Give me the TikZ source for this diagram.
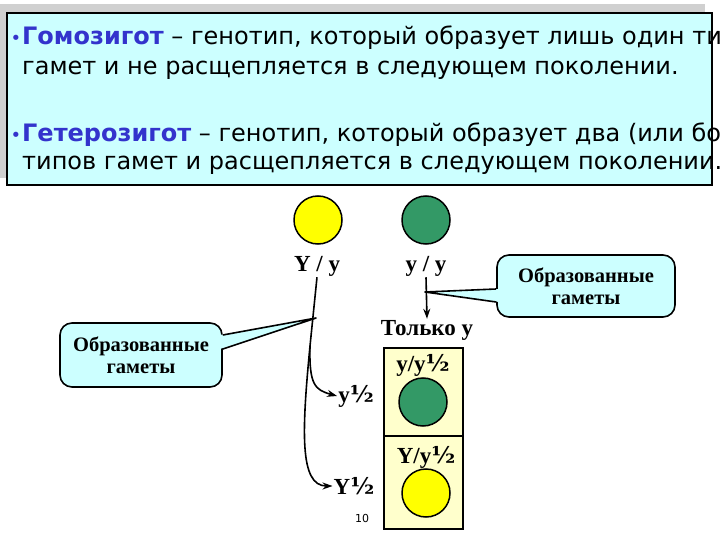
\documentclass[tikz,border=0pt]{standalone}
\usepackage{fontspec}
\setmainfont{Liberation Serif}
\newfontfamily\dv{DejaVu Sans}
\newfontfamily\dvs{DejaVu Serif}
\usetikzlibrary{arrows.meta,calc}
\definecolor{boxcyan}{HTML}{CCFFFF}
\definecolor{callcyan}{HTML}{CCFFFF}
\definecolor{shadowgray}{HTML}{D0D0D0}
\definecolor{termblue}{HTML}{3333CC}
\definecolor{ballyellow}{HTML}{FFFF00}
\definecolor{ballgreen}{HTML}{339966}
\definecolor{cellyellow}{HTML}{FFFFCC}
\newcommand{\half}{{\dvs\bfseries ½}}
\tikzset{
  deftext/.style={font=\dv\fontsize{24}{28}\selectfont, anchor=base west, inner sep=0pt},
  bulletmark/.style={font=\dv\fontsize{18}{18}\selectfont, anchor=base east, inner sep=0pt, text=termblue},
  lbl/.style={font=\bfseries\fontsize{23}{26}\selectfont, inner sep=1pt},
  calltext/.style={font=\bfseries\fontsize{20.5}{22}\selectfont, align=center},
  callbox/.style={draw, line width=1.6pt, fill=callcyan, rounded corners=12pt, minimum width=#1},
  ball/.style={circle, draw, line width=1.5pt, minimum size=48pt, inner sep=0pt},
  cell/.style={draw, line width=1.5pt, fill=cellyellow, minimum width=79pt, inner sep=0pt},
  conn/.style={line width=1.6pt},
  arr/.style={line width=1.6pt, -{Stealth[length=10pt,width=7pt]}}
}
\begin{document}
\begin{tikzpicture}[x=1pt,y=-1pt]
\useasboundingbox (0,0) rectangle (720,540);
\clip (0,0) rectangle (720,540);
\fill[white] (0,0) rectangle (720,540);
% top definitions box
\fill[shadowgray] (0,4) rectangle (705,178);
\draw[line width=2pt, fill=boxcyan] (7,13) rectangle (712,185);
\node[bulletmark] (b1) at (21.5,45) {•};
\node[deftext] (t1) at (22,45) {\textcolor{termblue}{\bfseries Гомозигот} – генотип, который образует лишь один типов};
\node[deftext] (t2) at (22,75) {гамет и не расщепляется в следующем поколении.};
\node[bulletmark] (b2) at (21.5,142) {•};
\node[deftext] (t3) at (22,142) {\textcolor{termblue}{\bfseries Гетерозигот} – генотип, который образует два (или более)};
\node[deftext] (t4) at (22,170) {типов гамет и расщепляется в следующем поколении.};
% parents
\node[ball, fill=ballyellow] (pY) at (318,220) {};
\node[ball, fill=ballgreen] (pg) at (426,220) {};
\node[lbl] (lY) at (317,266) {Y / y};
\node[lbl] (ly) at (426,266) {y / y};
\node[lbl] (only) at (427,330) {Только y};
% gametes of Y/y
\node[lbl] (ga) at (356,396) {y\half};
\node[lbl] (gb) at (354,486) {Y\half};
\coordinate (br) at (310,346);
\draw[conn] (lY.south) -- (br);
\draw[arr] (br) .. controls (309,385) and (315,390) .. (ga.west);
\draw[arr] (br) .. controls (302,430) and (299,486) .. (gb.west);
\draw[arr] (ly.south) -- (only.north);
% offspring column
\node[cell, minimum height=88pt, anchor=north west] (c1) at (383,347) {};
\node[cell, minimum height=93pt, anchor=north west] (c2) at (383,435) {};
\node[lbl] (o1) at (423,365) {y/y\half};
\node[lbl] (o2) at (426,457) {Y/y\half};
\node[ball, fill=ballgreen] (k1) at (423,402) {};
\node[ball, fill=ballyellow] (k2) at (426,493) {};
\node[font=\dv\fontsize{11}{12}\selectfont] (pg10) at (362,518) {10};
% callouts
\coordinate (tipR) at (425,292);
\node[callbox=178pt, minimum height=62pt, calltext] (cR) at (586,286) {Образованные\\гаметы};
\fill[callcyan] ($(cR.west)+(3,3)$) -- (tipR) -- ($(cR.west)+(3,16)$) -- cycle;
\draw[line width=1.6pt, line join=round] ($(cR.west)+(0,3)$) -- (tipR) -- ($(cR.west)+(0,16)$);
\coordinate (tipL) at (316,318);
\node[callbox=162pt, minimum height=64pt, calltext] (cL) at (141,355) {Образованные\\гаметы};
\fill[callcyan] ($(cL.east)+(-3,-20)$) -- (tipL) -- ($(cL.east)+(-3,-6)$) -- cycle;
\draw[line width=1.6pt, line join=round] ($(cL.east)+(0,-20)$) -- (tipL) -- ($(cL.east)+(0,-6)$);
\end{tikzpicture}
\end{document}
